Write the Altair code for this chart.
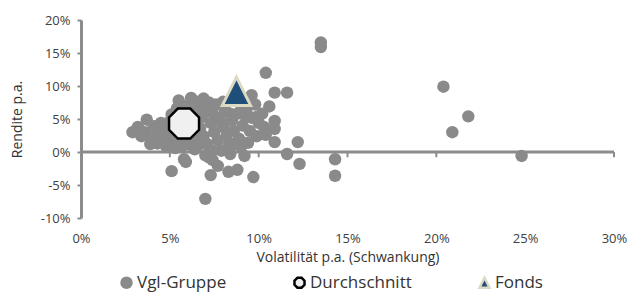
import altair as alt
import pandas as pd

# Vergleichsgruppe (Volatilität %, Rendite %)
vgl_vol = [2.9, 3.2, 3.4, 3.7, 3.6, 4.0, 4.1, 4.3, 4.4, 4.6, 4.8, 4.9, 5.0, 5.2, 5.3, 5.5, 5.7, 4.5, 5.0,
           5.1, 5.4, 5.5, 6.2, 6.0, 6.6, 6.9, 7.2, 6.5, 7.0, 6.8, 7.4, 7.6, 6.3, 6.1, 6.4, 6.2, 6.7, 6.9,
           7.1, 7.3, 7.5, 7.7, 7.8, 8.0, 8.1, 8.2, 8.3, 8.5, 8.6, 8.8, 8.9, 9.0, 9.1, 9.3, 9.4, 9.5, 9.6,
           9.8, 9.9, 10.0, 9.6, 10.3, 10.6, 10.9, 10.9, 10.9, 10.4, 10.9, 11.6, 9.9,
           12.2, 11.6, 12.3, 14.3, 14.3, 9.7, 9.2, 8.4, 7.9, 7.2, 7.0, 7.4, 8.8, 8.3, 7.7, 7.3, 7.0,
           5.9, 5.1, 5.8, 13.5, 13.5, 20.4, 21.8, 20.9, 24.8,
           3.9, 5.5, 5.6, 6.0, 6.6, 7.9, 8.4, 8.0, 9.2, 9.0, 8.6, 7.4, 6.4, 10.2, 10.4, 9.4, 3.3, 4.7]
vgl_ret = [3.0, 3.8, 2.4, 4.9, 3.0, 2.1, 3.9, 1.3, 3.0, 2.2, 0.8, 3.4, 1.6, 2.6, 0.6, 1.5, 0.9, 4.4, 4.6,
           5.7, 6.6, 7.8, 8.2, 7.0, 7.6, 8.1, 7.5, 6.2, 6.5, 5.3, 6.0, 7.2, 5.2, 3.2, 2.1, 1.0, 3.6, 2.4,
           1.2, 4.4, 3.0, 1.8, 5.2, 3.8, 6.4, 2.5, 1.0, 4.8, 3.2, 5.8, 2.0, 7.2, 4.0, 6.2, 1.4, 3.2, 5.2,
           7.2, 2.4, 4.4, 8.6, 3.8, 6.9, 4.7, 3.5, 1.5, 12.0, 9.0, 9.0, 5.3,
           1.5, -0.3, -1.8, -1.1, -3.6, -3.8, -0.6, -0.3, 0.2, -0.8, -0.5, -1.2, -2.7, -3.0, -2.1, -3.5, -7.1,
           -1.5, -2.9, -1.1, 16.6, 15.9, 9.9, 5.4, 3.0, -0.6,
           1.2, 3.5, 5.5, 2.0, 1.0, 4.4, 5.8, 7.6, 5.6, 0.8, 1.2, 0.2, 0.4, 5.8, 2.6, 8.0, 3.2, 1.6]

avg_vol = [5.8]
avg_ret = [4.3]
fonds_vol = [8.75]
fonds_ret = [9.2]

x_ticks = [0, 5, 10, 15, 20, 25, 30]
y_ticks = [-10, -5, 0, 5, 10, 15, 20]
series = ["Vgl-Gruppe", "Durchschnitt", "Fonds"]
fills = ["#8a8a8a", "#f0f0f0", "#1f4e79"]
strokes = ["#8a8a8a", "#000000", "#ddd9c3"]
OCT = "M -0.414,-1 L 0.414,-1 L 1,-0.414 L 1,0.414 L 0.414,1 L -0.414,1 L -1,0.414 L -1,-0.414 Z"
TRI = "M 0,-1 L 1,1 L -1,1 Z"
shapes = ["circle", OCT, TRI]

FONT = "Open Sans"
GREY = "#8c8c8c"

df_vgl = pd.DataFrame({"vol": vgl_vol, "ret": vgl_ret, "series": series[0]})
df_avg = pd.DataFrame({"vol": avg_vol, "ret": avg_ret, "series": series[1]})
df_fonds = pd.DataFrame({"vol": fonds_vol, "ret": fonds_ret, "series": series[2]})
df_zero = pd.DataFrame({"ret": [0]})
df_ticks = pd.DataFrame({"vol": x_ticks[1:], "ret": [0] * (len(x_ticks) - 1),
                         "ret2": [-0.8] * (len(x_ticks) - 1)})

x_axis = alt.Axis(values=x_ticks, labelExpr="datum.value + '%'", title="Volatilität p.a. (Schwankung)",
                  domain=False, ticks=False, grid=False, labelPadding=14, labelFontSize=13,
                  labelFlush=False, labelOverlap=False,
                  labelFont=FONT, labelColor="#404040", titleFont=FONT, titleFontSize=14,
                  titleFontWeight="normal", titleColor="#333333", titlePadding=5)
y_axis = alt.Axis(values=y_ticks, labelExpr="datum.value + '%'", title="Rendite p.a.",
                  grid=False, domainColor=GREY, domainWidth=3, tickColor=GREY, tickWidth=2,
                  labelFlush=False, labelOverlap=False,
                  tickSize=4, labelPadding=7, labelFontSize=13, labelFont=FONT, labelColor="#404040",
                  titleFont=FONT, titleFontSize=14, titleFontWeight="normal", titleColor="#333333",
                  titlePadding=16)

X = alt.X("vol:Q", scale=alt.Scale(domain=[0, 30], nice=False), axis=x_axis)
Y = alt.Y("ret:Q", scale=alt.Scale(domain=[-10, 20], nice=False), axis=y_axis)

leg = alt.Legend(title=None, orient="none", direction="horizontal", columns=3, legendX=37, legendY=254,
                 labelFont=FONT, labelFontSize=17, labelColor="#333333", symbolSize=100,
                 symbolStrokeWidth=2.5, columnPadding=62, gridAlign="each", labelOffset=2, symbolOpacity=1)

enc = dict(
    x=X, y=Y,
    color=alt.Color("series:N", scale=alt.Scale(domain=series, range=fills), legend=leg),
    shape=alt.Shape("series:N", scale=alt.Scale(domain=series, range=shapes), legend=leg),
    stroke=alt.Stroke("series:N", scale=alt.Scale(domain=series, range=strokes), legend=leg),
)

zero = alt.Chart(df_zero).mark_rule(color=GREY, strokeWidth=3).encode(y=Y)
ticks = alt.Chart(df_ticks).mark_rule(color=GREY, strokeWidth=2).encode(x=X, y=Y, y2="ret2:Q")
pts = alt.Chart(df_vgl).mark_point(filled=True, size=155, opacity=1, strokeWidth=0).encode(**enc)
avg = alt.Chart(df_avg).mark_point(filled=True, size=900, opacity=1, strokeWidth=2.5).encode(**enc)
fonds = alt.Chart(df_fonds).mark_point(filled=True, size=800, opacity=1, strokeWidth=3).encode(**enc)

chart = alt.layer(zero, ticks, pts, avg, fonds).properties(
    width=533, height=198,
    autosize=alt.AutoSizeParams(type="none"),
    padding={"left": 73, "top": 12, "right": 13, "bottom": 77},
).configure_view(stroke=None)

chart.save("out.html", embed_options={"renderer": "svg", "actions": False})
